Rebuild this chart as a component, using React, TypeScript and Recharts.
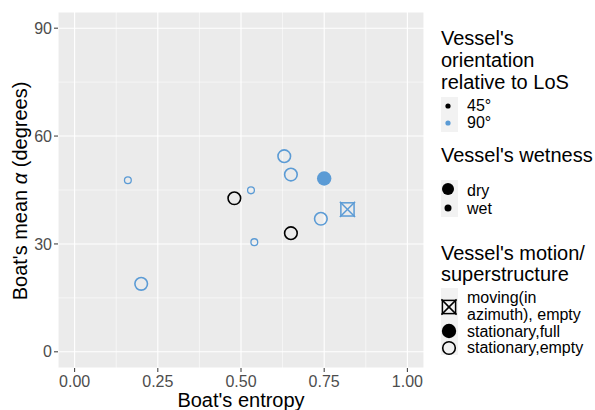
import React from 'react';
import {
  ScatterChart,
  Scatter,
  XAxis,
  YAxis,
  CartesianGrid,
  ReferenceLine,
} from 'recharts';

// values
const entropy = [0.16, 0.2, 0.48, 0.53, 0.54, 0.63, 0.65, 0.65, 0.75, 0.74, 0.82];
const meanAlpha = [47.7, 18.9, 42.7, 44.9, 30.5, 54.4, 49.3, 33.0, 48.2, 37.0, 39.6];
const orientation = ['90°', '90°', '45°', '90°', '90°', '90°', '90°', '45°', '90°', '90°', '90°'];
const wetness = ['wet', 'dry', 'dry', 'wet', 'wet', 'dry', 'dry', 'dry', 'dry', 'dry', 'dry'];
const motion = [
  'stationary,empty',
  'stationary,empty',
  'stationary,empty',
  'stationary,empty',
  'stationary,empty',
  'stationary,empty',
  'stationary,empty',
  'stationary,empty',
  'stationary,full',
  'stationary,empty',
  'moving(in azimuth), empty',
];

const xTicks = [0, 0.25, 0.5, 0.75, 1];
const yTicks = [0, 30, 60, 90];
const xMinor = [0.125, 0.375, 0.625, 0.875];
const yMinor = [15, 45, 75];

const orientationLevels = ['45°', '90°'];
const wetnessLevels = ['dry', 'wet'];

const colors: Record<string, string> = { '45°': '#000000', '90°': '#5B9BD5' };

const FONT = '"Liberation Sans", Arial, sans-serif';

const points = entropy.map((e, i) => ({
  entropy: e,
  alpha: meanAlpha[i],
  orientation: orientation[i],
  wetness: wetness[i],
  motion: motion[i],
}));

const Marker = ({ cx, cy, color, wet, kind }: any) => {
  if (kind === 'stationary,full') {
    return <circle cx={cx} cy={cy} r={wet ? 4 : 7.2} fill={color} />;
  }
  if (kind.startsWith('moving')) {
    const h = wet ? 4 : 6.6;
    return (
      <g stroke={color} strokeWidth={1.5} fill="none">
        <rect x={cx - h} y={cy - h} width={h * 2} height={h * 2} />
        <line x1={cx - h - 1} y1={cy - h - 1} x2={cx + h + 1} y2={cy + h + 1} />
        <line x1={cx - h - 1} y1={cy + h + 1} x2={cx + h + 1} y2={cy - h - 1} />
      </g>
    );
  }
  return (
    <circle
      cx={cx}
      cy={cy}
      r={wet ? 3.4 : 6.3}
      fill="none"
      stroke={color}
      strokeWidth={wet ? 1.3 : 1.6}
    />
  );
};

const renderPoint = (props: any) => {
  const { cx, cy, payload } = props;
  return (
    <Marker
      cx={cx}
      cy={cy}
      color={colors[payload.orientation]}
      wet={payload.wetness === 'wet'}
      kind={payload.motion}
    />
  );
};

const Legends = () => {
  const title = { fontSize: 20, fill: '#000' };
  const label = { fontSize: 16, fill: '#000' };
  return (
    <svg
      width={595}
      height={410}
      style={{ position: 'absolute', left: 0, top: 0, pointerEvents: 'none', fontFamily: FONT }}
    >
      {/* axis titles */}
      <text x={241} y={407} textAnchor="middle" {...title}>
        Boat's entropy
      </text>
      <text
        transform="translate(27,191) rotate(-90)"
        textAnchor="middle"
        {...title}
      >
        Boat's mean <tspan fontStyle="italic">α</tspan> (degrees)
      </text>

      {/* orientation */}
      <text x={441} y={45} {...title}>Vessel's</text>
      <text x={441} y={67} {...title}>orientation</text>
      <text x={441} y={89} {...title}>relative to LoS</text>
      <rect x={441} y={97} width={17} height={35} fill="#f2f2f2" />
      {orientationLevels.map((o, i) => (
        <g key={o}>
          <circle cx={448} cy={106 + i * 17} r={2.6} fill={colors[o]} />
          <text x={467} y={111 + i * 16.5} {...label}>{o}</text>
        </g>
      ))}

      {/* wetness */}
      <text x={441} y={162} {...title}>Vessel's wetness</text>
      <rect x={441} y={180} width={17} height={37} fill="#f2f2f2" />
      {wetnessLevels.map((w, i) => (
        <g key={w}>
          <circle cx={448} cy={189 + i * 19} r={w === 'dry' ? 6 : 3.5} fill="#000" />
          <text x={467} y={195.5 + i * 18} {...label}>{w}</text>
        </g>
      ))}

      {/* motion */}
      <text x={441} y={260} {...title}>Vessel's motion/</text>
      <text x={441} y={281} {...title}>superstructure</text>
      <rect x={441} y={288} width={17} height={67} fill="#f2f2f2" />
      <Marker cx={449} cy={307} color="#000" wet={false} kind="moving(in azimuth), empty" />
      <text x={467} y={303} {...label}>moving(in</text>
      <text x={467} y={320} {...label}>azimuth), empty</text>
      <Marker cx={449} cy={331} color="#000" wet={false} kind="stationary,full" />
      <text x={467} y={337} {...label}>stationary,full</text>
      <Marker cx={449} cy={348} color="#000" wet={false} kind="stationary,empty" />
      <text x={467} y={353} {...label}>stationary,empty</text>
    </svg>
  );
};

export default function App() {
  const tick = { fill: '#4d4d4d', fontSize: 16, fontFamily: FONT };
  return (
    <div
      style={{
        position: 'absolute',
        left: 0,
        top: 0,
        width: 595,
        height: 410,
        background: '#fff',
        fontFamily: FONT,
      }}
    >
      <ScatterChart
        width={595}
        height={410}
        margin={{ top: 12, right: 171, bottom: 0, left: 0 }}
      >
        <CartesianGrid stroke="#ffffff" strokeWidth={1.1} fill="#ebebeb" fillOpacity={1} />
        {xMinor.map((v) => (
          <ReferenceLine key={'x' + v} x={v} stroke="#ffffff" strokeWidth={0.55} />
        ))}
        {yMinor.map((v) => (
          <ReferenceLine key={'y' + v} y={v} stroke="#ffffff" strokeWidth={0.55} />
        ))}
        <XAxis
          type="number"
          dataKey="entropy"
          domain={[-0.05, 1.05]}
          ticks={xTicks}
          allowDataOverflow
          tickFormatter={(v: number) => v.toFixed(2)}
          tick={tick}
          tickSize={4}
          tickMargin={4}
          tickLine={{ stroke: '#333333' }}
          axisLine={false}
          height={42}
        />
        <YAxis
          type="number"
          dataKey="alpha"
          domain={[-4.5, 94.5]}
          ticks={yTicks}
          allowDataOverflow
          tick={tick}
          tickSize={4}
          tickMargin={2}
          tickLine={{ stroke: '#333333' }}
          axisLine={false}
          width={58}
        />
        <Scatter data={points} shape={renderPoint} isAnimationActive={false} />
      </ScatterChart>
      <Legends />
    </div>
  );
}
